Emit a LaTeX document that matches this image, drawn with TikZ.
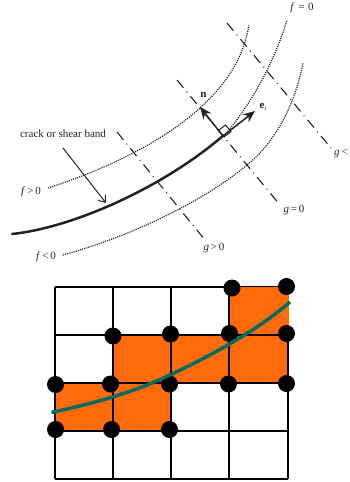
\documentclass[tikz,border=0pt]{standalone}
\usepackage{fontspec}
\setmainfont{Liberation Serif}
\usetikzlibrary{arrows.meta}
\definecolor{fillorange}{HTML}{FF6A0A}
\definecolor{curveteal}{HTML}{006B5E}
\definecolor{ink}{HTML}{222222}
\tikzset{
  dotline/.style={ink,line width=1.2pt,dash pattern=on 1.1pt off 1.1pt},
  dashdotline/.style={ink,line width=1.1pt,dash pattern=on 10pt off 5pt on 1pt off 5pt},
  lbl/.style={inner sep=0pt,font=\fontsize{11}{12}\selectfont,text=ink},
  gridline/.style={black,line width=1.6pt},
  gnode/.style={circle,fill=black,minimum size=17pt,inner sep=0pt},
  cell/.style={fill=fillorange,draw=none},
  vec/.style={ink,line width=1.5pt,-{Stealth[length=12pt,width=10pt]}}
}
\begin{document}
\begin{tikzpicture}[x=1pt,y=-1pt]
\useasboundingbox (0,0) rectangle (350,482);
\clip (0,0) rectangle (350,482);
% upper figure: yield surfaces
\draw[dotline] (48,188) .. controls (110,168) and (165,140) .. (200,108)
  .. controls (225,85) and (243,60) .. (249,25);
\draw[dotline] (223,137) .. controls (245,112) and (272,70) .. (287,20);
\draw[dotline] (63,255) .. controls (135,235) and (205,200) .. (247,165)
  .. controls (278,140) and (296,100) .. (303,63);
% characteristic lines
\draw[dashdotline] (227,23) -- (331,148);
\draw[dashdotline] (177,80) -- (280,205);
\draw[dashdotline] (117,132) -- (205,240);
% crack
\draw[ink,line width=2.5pt,line cap=round] (12,234) .. controls (70,228) and (160,190) .. (224,135);
% vectors
\coordinate (o) at (223,136);
\coordinate (nend) at (200,107);
\coordinate (eend) at (255,111);
\draw[vec] (o) -- (nend);
\draw[vec] (o) -- (eend);
\draw[ink,line width=1pt] (218.5,130.5) -- (225.5,125) -- (231,131.5) -- (224,137);
% labels
\node[lbl] (f0) at (302,8) {\textit{f}\,\,=\,\,0};
\node[lbl] (n) at (203.5,95) {\textbf{n}};
\node[lbl] (et) at (263,107) {\textbf{e}\raisebox{-1.5pt}{\fontsize{6}{6}\selectfont\textit{t}}};
\node[lbl] (crack) at (63,134) {crack or shear band};
\node[lbl] (fp) at (31,192) {\textit{f}\,>\,0};
\node[lbl] (fm) at (46,257) {\textit{f}\,<\,0};
\node[lbl] (gp) at (214,248) {\textit{g}\,>\,0};
\node[lbl] (gz) at (294,210) {\textit{g}\,=\,0};
\node[lbl,anchor=west] (gm) at (334,154) {\textit{g}\,<};
\coordinate (crs) at (63,148);
\coordinate (cre) at (106,203);
\draw[ink,line width=1pt,-{Straight Barb[length=6pt,width=9pt]}] (crs) -- (cre);
% lower figure: cells
\fill[cell] (229,287) rectangle (288,335);
\fill[cell] (113,335) rectangle (288,383);
\fill[cell] (55,383) rectangle (171,431);
% grid
\foreach \x in {55,113,171,229,288} \draw[gridline] (\x,287) -- (\x,479);
\foreach \y in {287,335,383,431,479} \draw[gridline] (55,\y) -- (288,\y);
\fill[fillorange] (229.8,286.5) rectangle (288.8,334);
% enriched nodes
\node[gnode] (a1) at (232,288) {};
\node[gnode] (a2) at (286.5,286.5) {};
\node[gnode] (b1) at (113,336) {};
\node[gnode] (b2) at (170.5,334) {};
\node[gnode] (b3) at (229.5,333.5) {};
\node[gnode] (b4) at (286.5,333.5) {};
\node[gnode] (c1) at (55.5,384.5) {};
\node[gnode] (c2) at (110.5,384) {};
\node[gnode] (c3) at (169.5,384) {};
\node[gnode] (c4) at (228.5,384) {};
\node[gnode] (c5) at (286.5,383.5) {};
\node[gnode] (d1) at (55.5,429.5) {};
\node[gnode] (d2) at (111.5,429.5) {};
\node[gnode] (d3) at (169.5,429.5) {};
% discontinuity
\draw[curveteal,line width=3.5pt] (51.5,412.5) .. controls (90,404) and (130,394) .. (170,375)
  .. controls (210,356) and (255,332) .. (290,302);
\end{tikzpicture}
\end{document}
